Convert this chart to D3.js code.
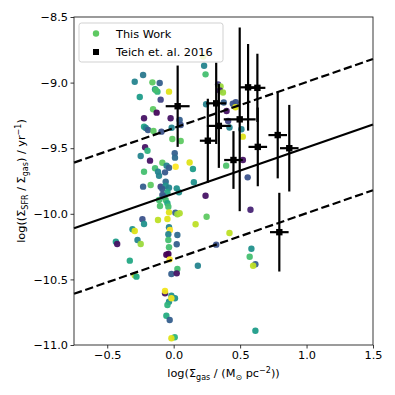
<!DOCTYPE html>
<html>
<head>
<meta charset="utf-8">
<script src="https://cdn.jsdelivr.net/npm/d3@7"></script>
<style>
  body { margin: 0; background: #fff; }
  text { font-family: "DejaVu Sans", sans-serif; }
</style>
</head>
<body>
<div id="chart"></div>
<script>
// values

// "This Work" scatter (x, y, colour value 0..1 on viridis)
const workX = [-0.23, -0.293, -0.16, -0.105, -0.14, -0.122, -0.135, -0.035, -0.255, -0.098,
  -0.155, -0.128, -0.223, -0.023, 0.045, 0.053, -0.223, -0.21, -0.193, -0.152,
  -0.092, -0.015, -0.01, 0.053, -0.215, -0.197, -0.248, -0.178, 0.008, 0.01,
  -0.085, -0.053, -0.035, 0.015, -0.14, -0.118, -0.065, -0.223, -0.11, -0.06,
  -0.23, -0.173, -0.098, -0.06, -0.085, -0.035, 0.023, -0.047, 0.04, -0.073,
  -0.085, -0.11, -0.06, -0.047, -0.103, -0.04, -0.035, 0.013, 0.028, 0.045,
  -0.235, -0.223, -0.118, -0.047, 0.165, -0.035, -0.028, -0.31, -0.293, -0.04,
  0.028, -0.272, -0.04, -0.435, -0.425, -0.248, 0.023, -0.035, -0.04, -0.055,
  -0.03, -0.33, 0.028, -0.017, 0.023, -0.293, -0.28, -0.065, -0.065, -0.017,
  0.01, -0.035, -0.017, -0.047, -0.055, -0.03, 0.008, -0.017,
  0.223, 0.229, 0.24, 0.334, 0.353, 0.347, 0.371, 0.244, 0.377, 0.445,
  0.467, 0.465, 0.398, 0.41, 0.42, 0.51, 0.52, 0.12, 0.145, 0.152,
  0.395, 0.521, 0.557, 0.24, 0.578, 0.248, 0.42, 0.32, 0.585, 0.572,
  0.615, 0.598, 0.182, 0.615];
const workY = [-8.942, -8.993, -8.998, -9.003, -9.051, -9.069, -9.056, -9.069, -9.11, -9.13,
  -9.203, -9.229, -9.272, -9.272, -9.285, -9.323, -9.336, -9.346, -9.361, -9.369,
  -9.374, -9.344, -9.43, -9.445, -9.493, -9.519, -9.559, -9.595, -9.539, -9.572,
  -9.611, -9.633, -9.649, -9.641, -9.653, -9.679, -9.684, -9.679, -9.71, -9.755,
  -9.793, -9.78, -9.793, -9.786, -9.811, -9.801, -9.806, -9.836, -9.836, -9.87,
  -9.857, -9.895, -9.895, -9.92, -9.941, -9.946, -9.989, -9.992, -10.004, -9.996,
  -10.042, -10.078, -10.047, -10.04, -10.08, -10.103, -10.124, -10.118, -10.131, -10.156,
  -10.162, -10.2, -10.2, -10.213, -10.23, -10.23, -10.232, -10.255, -10.306, -10.312,
  -10.347, -10.357, -10.421, -10.459, -10.454, -10.469, -10.479, -10.606, -10.588, -10.624,
  -10.644, -10.67, -10.644, -10.695, -10.777, -10.809, -10.941, -10.949,
  -8.801, -8.871, -8.937, -9.014, -9.03, -9.06, -9.075, -9.165, -9.152, -9.161,
  -9.149, -9.188, -9.216, -9.293, -9.342, -9.355, -9.412, -9.609, -9.659, -9.76,
  -9.633, -9.59, -9.722, -9.862, -9.969, -10.022, -10.146, -10.235, -10.266, -10.327,
  -10.385, -10.396, -10.396, -10.891];
const workC = [0.4, 0.45, 0.75, 0.3, 0.5, 0.65, 0.7, 0.95, 0.55, 0.2,
  0.75, 0.02, 0.05, 0.05, 0.3, 0.25, 0.6, 0.45, 0.28, 0.75,
  0.25, 0.45, 0.75, 0.75, 0.05, 0.65, 0.45, 0.05, 0.3, 0.35,
  0.75, 0.45, 0.3, 1.0, 0.7, 0.45, 0.28, 0.7, 0.45, 0.35,
  0.3, 0.75, 0.2, 0.5, 0.28, 0.45, 0.5, 0.6, 0.5, 0.3,
  0.28, 0.7, 0.7, 0.6, 0.72, 0.7, 0.95, 0.3, 0.85, 0.88,
  0.25, 0.5, 0.9, 0.95, 0.9, 0.45, 1.0, 0.5, 0.95, 0.45,
  0.35, 0.45, 0.7, 0.55, 0.05, 0.85, 0.3, 0.7, 0.0, 0.0,
  1.0, 0.6, 0.7, 0.3, 0.05, 0.9, 0.6, 0.05, 0.98, 0.5,
  0.5, 0.5, 0.98, 0.65, 0.62, 0.3, 0.65, 0.95,
  0.9, 0.45, 0.7, 0.18, 0.85, 0.1, 0.85, 0.45, 0.3, 0.25,
  0.25, 0.95, 0.05, 0.2, 0.45, 0.45, 0.95, 0.95, 0.55, 0.5,
  0.72, 0.05, 0.25, 0.05, 0.1, 0.75, 0.9, 0.25, 0.5, 0.7,
  0.3, 0.9, 0.45, 0.55];

// Teich et al. 2016 with error bars
const teichX = [0.03, 0.257, 0.32, 0.34, 0.45, 0.497, 0.56, 0.63, 0.633, 0.783, 0.87, 0.795];
const teichY = [-9.18, -9.443, -9.158, -9.33, -9.59, -9.28, -9.036, -9.04, -9.49, -9.40, -9.50, -10.14];
const teichXErr = [0.09, 0.06, 0.075, 0.09, 0.07, 0.12, 0.06, 0.06, 0.07, 0.07, 0.07, 0.07];
const teichYErr = [0.31, 0.32, 0.31, 0.32, 0.22, 0.70, 0.33, 0.26, 0.30, 0.33, 0.33, 0.30];

// relation and its +-0.5 dex band
const fitX = [-0.75, 1.5];
const fitY = [-10.11, -9.32];
const upperY = [-9.61, -8.82];
const lowerY = [-10.61, -9.82];

const xTicks = [-0.5, 0.0, 0.5, 1.0, 1.5];
const yTicks = [-11.0, -10.5, -10.0, -9.5, -9.0, -8.5];

// canvas
const W = 395, H = 395;
const margin = {top: 17, right: 22, bottom: 50, left: 74};

const svg = d3.select("#chart")
    .append("svg")
    .attr("width", W)
    .attr("height", H);

const x = d3.scaleLinear().domain([-0.75, 1.5]).range([margin.left, W - margin.right]);
const y = d3.scaleLinear().domain([-11.0, -8.5]).range([H - margin.bottom, margin.top]);
const fmt = d3.format(".1f");

//------SCATTER-----------------------------------------------------
const work = workX.map((d, i) => ({x: d, y: workY[i], c: workC[i]}));

svg.append("g")
    .selectAll("circle")
    .data(work)
    .enter()
    .append("circle")
    .attr("cx", d => x(d.x))
    .attr("cy", d => y(d.y))
    .attr("r", 3.2)
    .attr("fill", d => d3.interpolateViridis(d.c))
    .attr("opacity", 0.95);

//------LINES-----------------------------------------------------
const line = d3.line()
    .x(d => x(d[0]))
    .y(d => y(d[1]));

svg.append("path")
    .datum(fitX.map((d, i) => [d, fitY[i]]))
    .attr("d", line)
    .attr("fill", "none")
    .attr("stroke", "#000")
    .attr("stroke-width", 2.2);

[upperY, lowerY].forEach(ys => {
    svg.append("path")
        .datum(fitX.map((d, i) => [d, ys[i]]))
        .attr("d", line)
        .attr("fill", "none")
        .attr("stroke", "#000")
        .attr("stroke-width", 2.2)
        .attr("stroke-dasharray", "8.3,3.6");
});

//------ERRORBARS-----------------------------------------------------
const teich = teichX.map((d, i) => ({x: d, y: teichY[i], xe: teichXErr[i], ye: teichYErr[i]}));
const eb = svg.append("g").attr("stroke", "#000").attr("stroke-width", 2.2);

eb.selectAll("line.v")
    .data(teich)
    .enter()
    .append("line")
    .attr("x1", d => x(d.x)).attr("x2", d => x(d.x))
    .attr("y1", d => y(d.y - d.ye)).attr("y2", d => y(d.y + d.ye));

eb.selectAll("line.h")
    .data(teich)
    .enter()
    .append("line")
    .attr("x1", d => x(d.x - d.xe)).attr("x2", d => x(d.x + d.xe))
    .attr("y1", d => y(d.y)).attr("y2", d => y(d.y));

svg.append("g")
    .selectAll("rect")
    .data(teich)
    .enter()
    .append("rect")
    .attr("x", d => x(d.x) - 3.2)
    .attr("y", d => y(d.y) - 3.2)
    .attr("width", 6.4)
    .attr("height", 6.4)
    .attr("fill", "#000");

//------AXES-----------------------------------------------------
const xAxis = svg.append("g")
    .attr("transform", `translate(0,${H - margin.bottom})`)
    .call(d3.axisBottom(x).tickValues(xTicks).tickFormat(fmt).tickSizeOuter(0).tickSize(3.5));
const yAxis = svg.append("g")
    .attr("transform", `translate(${margin.left},0)`)
    .call(d3.axisLeft(y).tickValues(yTicks).tickFormat(fmt).tickSizeOuter(0).tickSize(3.5));

[xAxis, yAxis].forEach(a => {
    a.select(".domain").remove();
    a.selectAll("line").attr("stroke", "#222").attr("stroke-width", 0.9);
    a.selectAll("text")
        .attr("font-family", "DejaVu Sans")
        .attr("font-size", 11.3)
        .attr("fill", "#000");
});
xAxis.selectAll("text").attr("dy", "0.71em").attr("y", 6);
yAxis.selectAll("text").attr("x", -6);

// frame
svg.append("rect")
    .attr("x", margin.left)
    .attr("y", margin.top)
    .attr("width", W - margin.left - margin.right)
    .attr("height", H - margin.top - margin.bottom)
    .attr("fill", "none")
    .attr("stroke", "#222")
    .attr("stroke-width", 0.9);

// axis labels
const xl = svg.append("text")
    .attr("x", (margin.left + W - margin.right) / 2)
    .attr("y", 377)
    .attr("text-anchor", "middle")
    .attr("font-size", 11.3);
xl.append("tspan").text("log(Σ");
xl.append("tspan").text("gas").attr("font-size", 8).attr("dy", 2.5);
xl.append("tspan").text(" / (M").attr("dy", -2.5);
xl.append("tspan").text("⊙").attr("font-size", 8).attr("dy", 2.5);
xl.append("tspan").text(" pc").attr("dy", -2.5);
xl.append("tspan").text("−2").attr("font-size", 8).attr("dy", -4.5);
xl.append("tspan").text("))").attr("dy", 4.5);

const yl = svg.append("text")
    .attr("transform", `translate(25,${(margin.top + H - margin.bottom) / 2}) rotate(-90)`)
    .attr("text-anchor", "middle")
    .attr("font-size", 11.3);
yl.append("tspan").text("log((Σ");
yl.append("tspan").text("SFR").attr("font-size", 8).attr("dy", 2.5);
yl.append("tspan").text(" / Σ").attr("dy", -2.5);
yl.append("tspan").text("gas").attr("font-size", 8).attr("dy", 2.5);
yl.append("tspan").text(") / yr").attr("dy", -2.5);
yl.append("tspan").text("−1").attr("font-size", 8).attr("dy", -4.5);
yl.append("tspan").text(")").attr("dy", 4.5);

//------LEGEND-----------------------------------------------------
const legend = svg.append("g").attr("transform", "translate(79,23)");
legend.append("rect")
    .attr("width", 144)
    .attr("height", 39)
    .attr("rx", 2.5)
    .attr("fill", "#fff")
    .attr("fill-opacity", 0.8)
    .attr("stroke", "#ccc")
    .attr("stroke-width", 0.9);
legend.append("circle")
    .attr("cx", 17).attr("cy", 10.5).attr("r", 3.2)
    .attr("fill", d3.interpolateViridis(0.75));
legend.append("rect")
    .attr("x", 14).attr("y", 26).attr("width", 6).attr("height", 6)
    .attr("fill", "#000");
legend.append("text")
    .attr("x", 37).attr("y", 14.5)
    .attr("font-size", 11.3)
    .text("This Work");
legend.append("text")
    .attr("x", 37).attr("y", 32.5)
    .attr("font-size", 11.3)
    .text("Teich et. al. 2016");
</script>
</body>
</html>
